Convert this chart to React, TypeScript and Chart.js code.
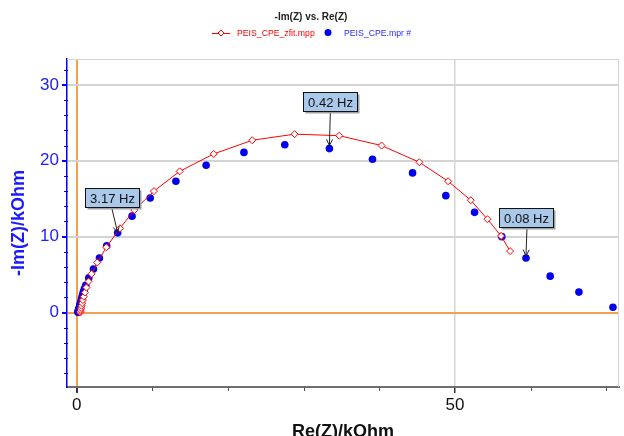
import React, { useEffect, useRef } from "react";
import { Chart, registerables } from "chart.js";

Chart.register(...registerables);

// Fit (PEIS_CPE_zfit.mpp): Re(Z) and -Im(Z) in kOhm
const fitRe = [0.45, 0.48, 0.52, 0.57, 0.63, 0.71, 0.8, 0.92, 1.07, 1.27, 1.55, 1.95, 2.7, 3.9, 5.7, 7.6, 10.2, 13.6, 18.1, 23.2, 28.8, 34.7, 40.3, 45.3, 49.1, 52.1, 54.3, 56.1, 57.3];
const fitIm = [0.0, 0.15, 0.35, 0.6, 0.9, 1.25, 1.65, 2.1, 2.65, 3.3, 4.1, 5.1, 6.6, 8.6, 11.1, 13.5, 16.0, 18.6, 20.9, 22.7, 23.5, 23.3, 22.0, 19.8, 17.3, 14.8, 12.3, 10.1, 8.1];

// Measured (PEIS_CPE.mpr #)
const measRe = [0.15, 0.17, 0.2, 0.22, 0.24, 0.28, 0.3, 0.33, 0.38, 0.41, 0.44, 0.5, 0.57, 0.65, 0.75, 0.86, 1.0, 1.18, 1.58, 2.2, 2.99, 3.95, 5.4, 7.3, 9.7, 13.1, 17.1, 22.1, 27.5, 33.4, 39.1, 44.4, 48.8, 52.6, 56.2, 59.4, 62.6, 66.4, 70.9];
const measIm = [0.05, 0.1, 0.2, 0.27, 0.33, 0.48, 0.56, 0.65, 0.85, 0.96, 1.08, 1.33, 1.62, 1.95, 2.32, 2.75, 3.15, 3.6, 4.57, 5.75, 7.2, 8.8, 10.5, 12.7, 15.1, 17.3, 19.4, 21.1, 22.1, 21.6, 20.2, 18.4, 15.4, 13.2, 10.0, 7.2, 4.8, 2.7, 0.7];

// Frequency annotations on measured points
const annotationLabels = ["3.17 Hz", "0.42 Hz", "0.08 Hz"];
const annotationIndex = [22, 29, 35];

const xMajorTicks = [0, 50];
const yMajorTicks = [0, 10, 20, 30];

const seriesNames = ["PEIS_CPE_zfit.mpp", "PEIS_CPE.mpr #"];
const chartTitle = "-Im(Z) vs. Re(Z)";
const xTitle = "Re(Z)/kOhm";
const yTitle = "-Im(Z)/kOhm";

const FONT = "Arial, 'Liberation Sans', sans-serif";
const ORANGE = "#f5a050";
const GRID = "#d4d4d4";
const BLUE = "#0000ee";
const RED = "#ff0000";

// box placement relative to point (pixels): [dx, dy, arrowStartDx, tipDy]
const annotationPlacement = [
  [-33, -45, -6, 0],
  [-26, -57, 1, -3],
  [-27, -50, 1, -2],
];

const extrasPlugin = {
  id: "extras",
  beforeDatasetsDraw(chart: any) {
    const { ctx, chartArea } = chart;
    const xs = chart.scales.x;
    const ys = chart.scales.y;
    ctx.save();
    // frame top and right
    ctx.strokeStyle = GRID;
    ctx.lineWidth = 1;
    ctx.beginPath();
    ctx.moveTo(chartArea.left, chartArea.top + 0.5);
    ctx.lineTo(chartArea.right, chartArea.top + 0.5);
    ctx.moveTo(chartArea.right - 0.5, chartArea.top);
    ctx.lineTo(chartArea.right - 0.5, chartArea.bottom);
    ctx.stroke();
    // minor ticks x
    ctx.strokeStyle = "#555";
    ctx.lineWidth = 1;
    ctx.beginPath();
    for (let v = 10; v <= 70; v += 10) {
      if (xMajorTicks.includes(v)) continue;
      const p = Math.round(xs.getPixelForValue(v)) + 0.5;
      ctx.moveTo(p, chartArea.bottom);
      ctx.lineTo(p, chartArea.bottom + 4);
    }
    ctx.stroke();
    // minor ticks y
    ctx.strokeStyle = BLUE;
    ctx.beginPath();
    for (let v = -8; v <= 32; v += 2) {
      if (yMajorTicks.includes(v)) continue;
      const p = Math.round(ys.getPixelForValue(v)) + 0.5;
      ctx.moveTo(chartArea.left - 3, p);
      ctx.lineTo(chartArea.left + 1, p);
    }
    ctx.stroke();
    ctx.restore();
  },
  afterDatasetsDraw(chart: any) {
    const { ctx } = chart;
    const meta = chart.getDatasetMeta(1);
    ctx.save();
    ctx.font = "13px " + FONT;
    annotationLabels.forEach((label, i) => {
      const pt = meta.data[annotationIndex[i]];
      if (!pt) return;
      const px = pt.x;
      const py = pt.y;
      const [dx, dy, adx, tdy] = annotationPlacement[i];
      const tw = ctx.measureText(label).width;
      const w = Math.round(tw + 9);
      const h = 19;
      const left = Math.round(px + dx) + 0.5;
      const top = Math.round(py + dy) + 0.5;
      // arrow
      const sx = px + adx;
      const sy = top + h;
      const tx = px;
      const ty = py + tdy;
      ctx.strokeStyle = "#222";
      ctx.lineWidth = 1;
      ctx.beginPath();
      ctx.moveTo(sx, sy);
      ctx.lineTo(tx, ty);
      const ang = Math.atan2(ty - sy, tx - sx);
      const al = 7;
      ctx.moveTo(tx - al * Math.cos(ang - 0.45), ty - al * Math.sin(ang - 0.45));
      ctx.lineTo(tx, ty);
      ctx.lineTo(tx - al * Math.cos(ang + 0.45), ty - al * Math.sin(ang + 0.45));
      ctx.stroke();
      // shadow
      ctx.fillStyle = "#a0a0a0";
      ctx.fillRect(left + 2, top + 2, w, h);
      // box
      ctx.fillStyle = "#a9c8ea";
      ctx.fillRect(left, top, w, h);
      ctx.strokeStyle = "#111";
      ctx.strokeRect(left, top, w, h);
      ctx.fillStyle = "#111";
      ctx.textAlign = "center";
      ctx.textBaseline = "middle";
      ctx.fillText(label, left + w / 2, top + h / 2 + 1);
    });
    ctx.restore();
  },
  afterDraw(chart: any) {
    const { ctx } = chart;
    ctx.save();
    const y = 33;
    // red legend: line with diamond
    ctx.strokeStyle = RED;
    ctx.lineWidth = 1;
    ctx.beginPath();
    ctx.moveTo(212, y + 0.5);
    ctx.lineTo(230, y + 0.5);
    ctx.stroke();
    ctx.fillStyle = "#fff";
    ctx.beginPath();
    ctx.moveTo(221, y - 3);
    ctx.lineTo(224, y);
    ctx.lineTo(221, y + 3);
    ctx.lineTo(218, y);
    ctx.closePath();
    ctx.fill();
    ctx.stroke();
    ctx.font = "8.7px " + FONT;
    ctx.textBaseline = "middle";
    ctx.textAlign = "left";
    ctx.fillStyle = RED;
    ctx.fillText(seriesNames[0], 237, y + 0.5);
    // blue legend: dot
    ctx.fillStyle = BLUE;
    ctx.beginPath();
    ctx.arc(328, y - 0.5, 3.5, 0, Math.PI * 2);
    ctx.fill();
    ctx.fillStyle = "#2a2aff";
    ctx.fillText(seriesNames[1], 344, y + 0.5);
    ctx.restore();
  },
};

export default function App() {
  const ref = useRef<HTMLCanvasElement | null>(null);
  useEffect(() => {
    document.body.style.margin = "0";
    const canvas = ref.current;
    if (!canvas) return;
    const chart = new Chart(canvas, {
      type: "scatter",
      data: {
        datasets: [
          {
            label: seriesNames[0],
            data: fitRe.map((x, i) => ({ x, y: fitIm[i] })),
            showLine: true,
            borderColor: RED,
            borderWidth: 1,
            backgroundColor: "#ffffff",
            pointStyle: "rectRot",
            pointRadius: 3.5,
            pointBorderColor: RED,
            pointBorderWidth: 1,
            pointBackgroundColor: "rgba(255,255,255,1)",
            order: 1,
          },
          {
            label: seriesNames[1],
            data: measRe.map((x, i) => ({ x, y: measIm[i] })),
            showLine: false,
            pointStyle: "circle",
            pointRadius: 3.8,
            pointBorderWidth: 0,
            pointBackgroundColor: BLUE,
            backgroundColor: BLUE,
            borderColor: BLUE,
            order: 2,
          },
        ],
      },
      options: {
        responsive: false,
        animation: false,
        layout: { padding: { top: 0, right: 2, left: 0, bottom: 0 } },
        plugins: {
          legend: { display: false },
          tooltip: { enabled: false },
          title: {
            display: true,
            text: chartTitle,
            color: "#222",
            font: { family: FONT, size: 10, weight: "bold" },
            padding: { top: 11, bottom: 36 },
          },
        },
        scales: {
          x: {
            type: "linear",
            min: -1.3,
            max: 71.7,
            afterFit(scale: any) {
              scale.height = 49;
            },
            ticks: {
              stepSize: 10,
              includeBounds: false,
              autoSkip: false,
              maxRotation: 0,
              color: "#111",
              font: { family: FONT, size: 17 },
              padding: 2,
              callback: (v: any) => (xMajorTicks.includes(Number(v)) ? String(v) : ""),
            },
            grid: {
              drawOnChartArea: true,
              drawTicks: true,
              tickLength: 6,
              lineWidth: (c: any) => (c.tick && c.tick.value === 0 ? 2 : 1.5),
              color: (c: any) => {
                const v = c.tick ? c.tick.value : NaN;
                if (v === 0) return ORANGE;
                if (v === 50) return GRID;
                return "rgba(0,0,0,0)";
              },
              tickColor: (c: any) => {
                const v = c.tick ? c.tick.value : NaN;
                return xMajorTicks.includes(v) ? "#333" : "rgba(0,0,0,0)";
              },
            },
            border: { display: true, color: "#6e6e6e", width: 2 },
            title: {
              display: true,
              text: xTitle,
              color: "#111",
              font: { family: FONT, size: 18, weight: "bold" },
              padding: { top: 0, bottom: -7 },
            },
          },
          y: {
            type: "linear",
            min: -9.8,
            max: 33.4,
            afterFit(scale: any) {
              scale.width = 67;
            },
            ticks: {
              stepSize: 2,
              includeBounds: false,
              autoSkip: false,
              color: "#2020ff",
              font: { family: FONT, size: 17 },
              padding: 3,
              callback: (v: any) => (yMajorTicks.includes(Number(v)) ? String(v) : ""),
            },
            grid: {
              drawOnChartArea: true,
              drawTicks: true,
              tickLength: 5,
              lineWidth: 2,
              color: (c: any) => {
                const v = c.tick ? c.tick.value : NaN;
                if (v === 0) return ORANGE;
                if (v === 10 || v === 20 || v === 30) return GRID;
                return "rgba(0,0,0,0)";
              },
              tickColor: (c: any) => {
                const v = c.tick ? c.tick.value : NaN;
                return yMajorTicks.includes(v) ? BLUE : "rgba(0,0,0,0)";
              },
            },
            border: { display: true, color: BLUE, width: 1.5 },
            title: {
              display: true,
              text: yTitle,
              color: "#1a1aff",
              font: { family: FONT, size: 18, weight: "bold" },
              padding: { top: 8, bottom: 0 },
            },
          },
        },
      },
      plugins: [extrasPlugin],
    } as any);
    return () => chart.destroy();
  }, []);
  return <canvas ref={ref} width={624} height={436} style={{ display: "block" }} />;
}
